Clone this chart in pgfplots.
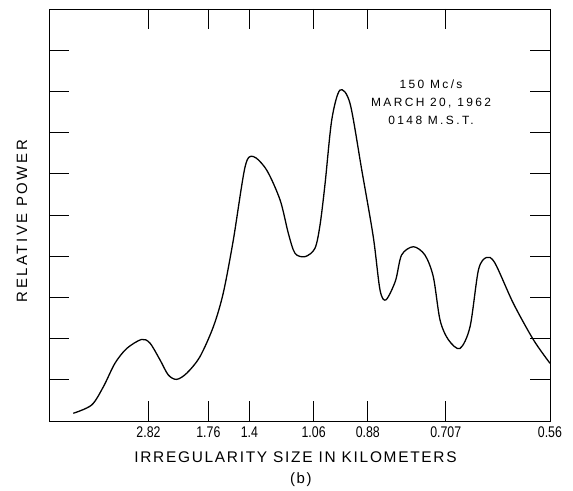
\documentclass[border=0pt]{standalone}
\usepackage{fontspec}
\setmainfont{Liberation Sans}
\newfontfamily\xlabfont[LetterSpace=11]{Liberation Sans}
\newfontfamily\ylabfont[LetterSpace=17]{Liberation Sans}
\newfontfamily\notefont[LetterSpace=20]{Liberation Sans}
\newfontfamily\tkfont[FakeStretch=0.8]{Liberation Sans}
\newcommand\tl[1]{\hbox{\tkfont\fontsize{15.5}{17}\selectfont #1}}
\usepackage{pgfplots}
\pgfplotsset{compat=1.18}
\begin{document}
\begin{tikzpicture}[x=1bp,y=1bp]
\path[use as bounding box] (-49bp,-70bp) rectangle (524bp,421bp);
\begin{axis}[
  at={(0,0)}, anchor=south west,
  scale only axis, width=501bp, height=412bp,
  xmin=0, xmax=1.786, ymin=0, ymax=10,
  axis line style={line width=0.9pt},
  xtick={0.3546,0.5682,0.7143,0.9434,1.1364,1.4144,1.7857},
  xticklabels={\tl{2.82},\tl{1.76},\tl{1.4},\tl{1.06},\tl{0.88},\tl{0.707},\tl{0.56}},
  ytick={1,2,3,4,5,6,7,8,9}, yticklabels={},
  tick pos=both, tick align=inside,
  major tick length=20bp,
  tick style={line width=0.8pt, black},
  xticklabel style={anchor=north, inner sep=0pt, yshift=-6bp},
  xlabel={\xlabfont\fontsize{15.5}{17}\selectfont IRREGULARITY SIZE IN KILOMETERS},
  xlabel style={at={(axis description cs:0.492,-0.0874)}, anchor=center, inner sep=0pt},
  ylabel={\ylabfont\fontsize{15}{17}\selectfont RELATIVE POWER},
  ylabel style={at={(axis description cs:-0.054,0.485)}, anchor=center, inner sep=0pt},
  clip=false,
]
\addplot[black, line width=1.3pt, smooth, tension=0.5] coordinates {
(0.0866,0.187) (0.152,0.388) (0.194,0.833) (0.235,1.40) (0.277,1.76)
(0.330,1.98) (0.360,1.89) (0.396,1.48) (0.425,1.12) (0.455,1.01)
(0.491,1.16) (0.538,1.56) (0.586,2.29) (0.621,3.10) (0.657,4.39)
(0.699,6.17) (0.728,6.42) (0.776,6.09) (0.824,5.36) (0.853,4.56)
(0.877,4.07) (0.913,3.99) (0.948,4.19) (0.966,4.75) (0.984,5.75)
(1.008,7.31) (1.037,8.03) (1.073,7.71) (1.115,6.09) (1.156,4.47)
(1.180,3.18) (1.201,2.94) (1.235,3.40) (1.257,4.03) (1.299,4.23)
(1.340,4.03) (1.370,3.50) (1.394,2.45) (1.424,1.97) (1.465,1.76)
(1.501,2.29) (1.531,3.67) (1.560,3.97) (1.590,3.83) (1.655,2.86)
(1.727,1.97) (1.786,1.40)
};
\node[font=\notefont\fontsize{12}{18}\selectfont, align=center, inner sep=0pt]
  at (axis cs:1.362,7.74) {150 Mc/s\\MARCH 20, 1962\\0148 M.S.T.};
\node[font=\xlabfont\fontsize{15}{17}\selectfont, inner sep=0pt] at (axis cs:0.898,-1.43) {(b)};
\end{axis}
\end{tikzpicture}
\end{document}
